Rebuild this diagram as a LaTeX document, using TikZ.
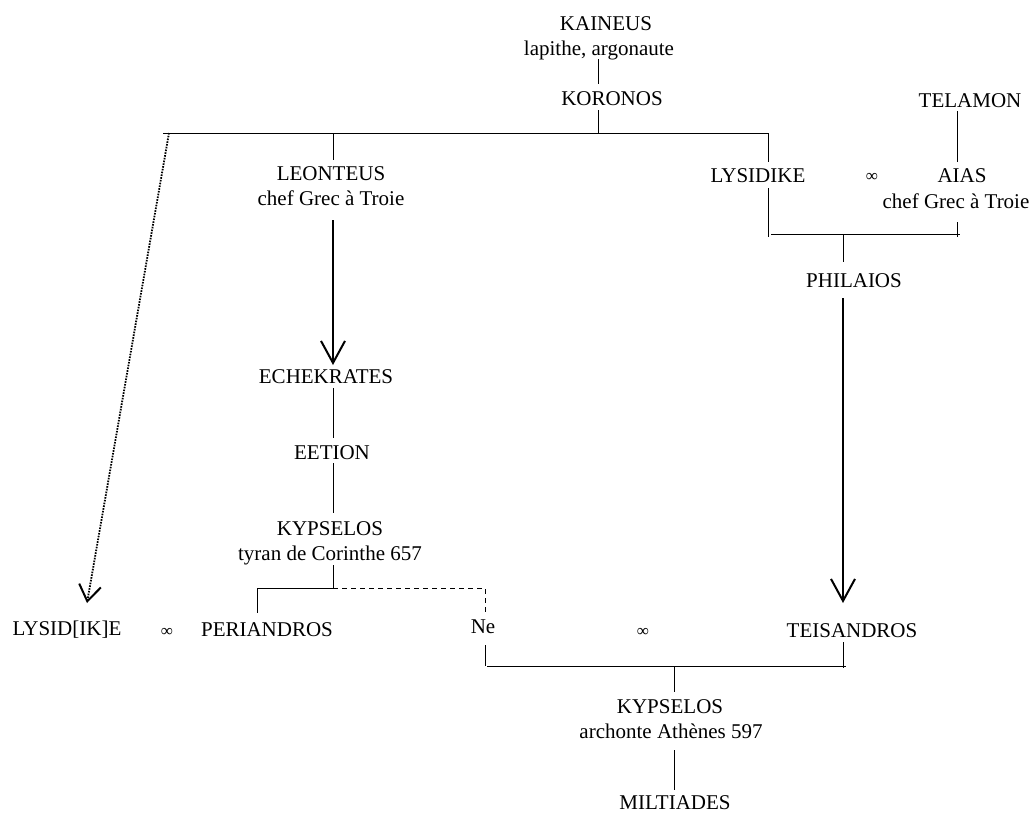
\documentclass[tikz,border=0pt]{standalone}
\usepackage{fontspec}
\setmainfont{Liberation Serif}
\usepackage{tikz}
\usetikzlibrary{arrows.meta}

\tikzset{
  person/.style={font=\fontsize{21}{25}\selectfont, inner sep=0pt, anchor=base},
  wed/.style={font=\fontsize{17}{19}\selectfont, inner sep=0pt},
  kin/.style={line width=0.8pt},
  descent/.style={line width=2.2pt, -{Straight Barb[length=22pt,width=24pt,line width=2pt]}},
  faint/.style={line width=1.8pt, dash pattern=on 1.6pt off 1.2pt, -{Straight Barb[length=16pt,width=22pt,line width=2pt,sep=0pt]}}
}

\begin{document}
\begin{tikzpicture}[x=1pt, y=-1pt]
  \useasboundingbox (0,0) rectangle (1033,815);

  % Top generations
  \node[person] (kaineus) at (606,30) {KAINEUS};
  \node[person] (kaineusb) at (599,55) {lapithe, argonaute};
  \node[person] (koronos) at (612,105) {KORONOS};
  \node[person] (telamon) at (970,107) {TELAMON};

  % Children of Koronos
  \node[person] (leonteus) at (331,180) {LEONTEUS};
  \node[person] (leonteusb) at (331,205) {chef Grec à Troie};
  \node[person] (lysidike) at (758,182) {LYSIDIKE};
  \node[wed] (wedA) at (872,177) {∞};
  \node[person] (aias) at (962,182) {AIAS};
  \node[person] (aiasb) at (956,208) {chef Grec à Troie};
  \node[person] (philaios) at (854,287) {PHILAIOS};

  % Corinthian line
  \node[person] (echekrates) at (326,383) {ECHEKRATES};
  \node[person] (eetion) at (332,459) {EETION};
  \node[person] (kypselos) at (330,535) {KYPSELOS};
  \node[person] (kypselosb) at (330,560) {tyran de Corinthe 657};

  % Marriages
  \node[person] (lysidke) at (67,635) {LYSID[IK]E};
  \node[wed] (wedB) at (167,632) {∞};
  \node[person] (periandros) at (267,636) {PERIANDROS};
  \node[person] (ne) at (483,633) {Ne};
  \node[wed] (wedC) at (643,632) {∞};
  \node[person] (teisandros) at (852,637) {TEISANDROS};

  % Athenian line
  \node[person] (kypselosa) at (670,713) {KYPSELOS};
  \node[person] (kypselosc) at (671,738) {archonte Athènes 597};
  \node[person] (miltiades) at (675,809) {MILTIADES};

  % Junction points
  \coordinate (kA) at (598,59);   \coordinate (kB) at (598,84);
  \coordinate (kC) at (598,110);  \coordinate (kD) at (598,133);
  \coordinate (barL) at (163,133); \coordinate (barR) at (768,133);
  \coordinate (leoT) at (333,133); \coordinate (leoB) at (333,160);
  \coordinate (lyT) at (768,162);  \coordinate (lyB) at (768,188);
  \coordinate (lyC) at (768,237);
  \coordinate (telB) at (957,111); \coordinate (aiT) at (957,162);
  \coordinate (aiB) at (957,222);  \coordinate (aiC) at (957,237);
  \coordinate (pbL) at (771,234);  \coordinate (pbR) at (960,234);
  \coordinate (phT) at (843,234);  \coordinate (phB) at (843,262);
  \coordinate (phA) at (843,298);  \coordinate (teA) at (843,603);
  \coordinate (leA) at (333,220);  \coordinate (ecA) at (333,365);
  \coordinate (ecB) at (333,388);  \coordinate (eeT) at (333,438);
  \coordinate (eeB) at (333,463);  \coordinate (kyT) at (333,513);
  \coordinate (kyB) at (333,565);  \coordinate (kyJ) at (333,588);
  \coordinate (peJ) at (257,588);  \coordinate (peT) at (257,613);
  \coordinate (neJ) at (485,588);  \coordinate (neT) at (485,613);
  \coordinate (neB) at (485,645);  \coordinate (nbL) at (487,666);
  \coordinate (nbR) at (846,666);  \coordinate (teB) at (843,642);
  \coordinate (teC) at (843,668);
  \coordinate (k2T) at (674,666);  \coordinate (k2B) at (674,692);
  \coordinate (miT) at (674,750);  \coordinate (miB) at (674,790);
  \coordinate (dotT) at (169,133); \coordinate (dotB) at (87,603);

  % Kinship lines
  \draw[kin] (kA) -- (kB);
  \draw[kin] (kC) -- (kD);
  \draw[kin] (barL) -- (barR);
  \draw[kin] (leoT) -- (leoB);
  \draw[kin] (barR) -- (lyT);
  \draw[kin] (lyB) -- (lyC);
  \draw[kin] (telB) -- (aiT);
  \draw[kin] (aiB) -- (aiC);
  \draw[kin] (pbL) -- (pbR);
  \draw[kin] (phT) -- (phB);
  \draw[kin] (ecB) -- (eeT);
  \draw[kin] (eeB) -- (kyT);
  \draw[kin] (kyB) -- (kyJ);
  \draw[kin] (peJ) -- (kyJ);
  \draw[kin] (peJ) -- (peT);
  \draw[kin, dash pattern=on 5pt off 4pt] (kyJ) -- (neJ) -- (neT);
  \draw[kin] (neB) -- (neB |- nbR);
  \draw[kin] (nbL) -- (nbR);
  \draw[kin] (teB) -- (teC);
  \draw[kin] (k2T) -- (k2B);
  \draw[kin] (miT) -- (miB);

  % Long descents
  \draw[descent] (leA) -- (ecA);
  \draw[descent] (phA) -- (teA);
  \draw[faint] (dotT) -- (dotB);
\end{tikzpicture}
\end{document}
